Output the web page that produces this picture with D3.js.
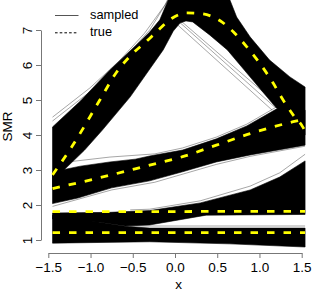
<!DOCTYPE html>
<html>
<head>
<meta charset="utf-8">
<script src="https://cdn.jsdelivr.net/npm/d3@7"></script>
<style>
  body { margin: 0; background: #fff; }
  svg { display: block; font-family: "Liberation Sans", Arial, Helvetica, sans-serif; }
</style>
</head>
<body>
<div id="chart"></div>
<script>
// ticks
const xTicks = [-1.5, -1, -0.5, 0, 0.5, 1, 1.5];
const yTicks = [1, 2, 3, 4, 5, 6, 7];
const legendLabels = ["sampled", "true"];

// true curves (yellow dashed)
const flatLowX = [-1.45, -0.3, 0.89, 1.54];
const flatLowY = [1.21, 1.21, 1.21, 1.21];
const flatHighX = [-1.45, -0.3, 0.89, 1.54];
const flatHighY = [1.81, 1.81, 1.82, 1.82];
const risingX = [-1.45, -0.89, -0.30, 0.09, 0.49, 0.89, 1.40, 1.54];
const risingY = [2.47, 2.78, 3.14, 3.38, 3.71, 4.04, 4.38, 4.46];
const peakX = [-1.45, -1.22, -0.89, -0.69, -0.50, -0.34, -0.20, -0.04, 0.14, 0.33, 0.53, 0.69, 0.85, 1.00, 1.16, 1.28, 1.40, 1.51, 1.54];
const peakY = [2.86, 3.67, 5.00, 5.80, 6.33, 6.67, 6.99, 7.33, 7.49, 7.46, 7.27, 6.95, 6.52, 6.06, 5.49, 5.00, 4.57, 4.24, 4.11];

// envelopes of the sampled curves (upper / lower edge of each black band)
const band1UpX = [-1.45, -0.89, -0.59, -0.30, 1.54];
const band1UpY = [1.71, 1.51, 1.39, 1.34, 1.34];
const band1LoX = [-1.45, -0.30, 0.65, 1.54];
const band1LoY = [0.91, 0.95, 0.89, 0.80];

const band2UpX = [-1.45, -0.77, -0.30, 0.30, 0.89, 1.24, 1.54];
const band2UpY = [1.77, 1.79, 1.84, 2.06, 2.43, 2.80, 3.26];
const band2LoX = [-1.45, -0.89, -0.59, -0.30, 0.37, 1.54];
const band2LoY = [1.60, 1.51, 1.40, 1.43, 1.71, 1.73];

const band3UpX = [-1.45, -1.34, -1.12, -0.77, -0.47, -0.30, 0.09, 0.49, 0.85, 1.20, 1.54];
const band3UpY = [2.94, 3.00, 3.11, 3.23, 3.31, 3.40, 3.57, 3.89, 4.26, 4.74, 4.71];
const band3LoX = [-1.45, -1.15, -0.75, -0.30, 0.09, 0.49, 0.89, 1.54];
const band3LoY = [2.04, 2.20, 2.49, 2.69, 2.95, 3.23, 3.43, 3.71];

const band4UpX = [-1.45, -1.12, -0.77, -0.47, -0.30, -0.18, -0.08, 0.00, 0.59, 0.65, 0.73, 0.89, 1.12, 1.36, 1.54];
const band4UpY = [4.23, 4.97, 5.86, 6.54, 6.94, 7.29, 7.86, 8.14, 8.14, 7.86, 7.37, 6.80, 6.14, 5.66, 5.37];
const band4LoX = [-1.45, -1.34, -1.07, -0.86, -0.53, -0.14, -0.02, 0.06, 0.13, 0.21, 0.41, 0.62, 0.92, 1.20, 1.54];
const band4LoY = [2.43, 2.94, 3.57, 4.14, 5.09, 6.43, 6.97, 7.20, 7.26, 7.23, 6.86, 6.43, 5.57, 4.77, 4.00];

// single sampled curves that stand apart from the bands
const strayX = [
  [-1.45, -1.01, -0.65, -0.36, -0.12, -0.06],
  [-1.45, -1.01, -0.65, -0.30, -0.08],
  [0.02, 1.15],
  [0.05, 1.18],
  [0.07, 1.10],
  [-1.42, -1.27, -0.77, -0.24, 0.09, 0.49, 0.85, 1.20],
  [-1.45, -0.75, -0.24, 0.49, 0.89, 1.54],
  [-0.53, -0.30, 0.30, 0.89, 1.24, 1.54],
  [-0.53, 0.30, 1.54]
];
const strayY = [
  [4.51, 5.34, 6.14, 6.91, 7.71, 8.00],
  [4.40, 5.23, 6.06, 7.00, 7.86],
  [7.17, 4.71],
  [7.23, 4.80],
  [7.26, 5.11],
  [2.94, 3.23, 3.37, 3.46, 3.63, 3.94, 4.31, 4.80],
  [1.96, 2.43, 2.65, 3.16, 3.39, 3.68],
  [1.86, 1.88, 2.12, 2.54, 2.92, 3.45],
  [1.40, 1.40, 1.40]
];

const pairs = (xs, ys) => xs.map((x, i) => [x, ys[i]]);

class SmrPlot {
  constructor() {
    this.config = {
      parentElement: "#chart",
      width: 312,
      height: 291,
      left: 41,
      bottom: 253
    };
    this.initVis();
  }

  initVis() {
    const vis = this;

    vis.svg = d3.select(vis.config.parentElement)
      .append("svg")
      .attr("width", vis.config.width)
      .attr("height", vis.config.height);

    vis.xScale = d3.scaleLinear().domain([-1.5, 1.5]).range([48.3, 301.7]);
    vis.yScale = d3.scaleLinear().domain([1, 7]).range([240, 30]);

    vis.svg.append("clipPath").attr("id", "plotclip")
      .append("rect")
      .attr("x", vis.config.left)
      .attr("y", 0)
      .attr("width", vis.config.width - vis.config.left)
      .attr("height", vis.config.bottom);

    vis.plot = vis.svg.append("g").attr("clip-path", "url(#plotclip)");

    vis.drawBands();
    vis.drawStray();
    vis.drawTrue();
    vis.drawAxes();
    vis.drawLegend();
  }

  drawBands() {
    const vis = this;
    const line = d3.line().x(d => vis.xScale(d[0])).y(d => vis.yScale(d[1]));
    const bands = [
      [pairs(band1UpX, band1UpY), pairs(band1LoX, band1LoY)],
      [pairs(band2UpX, band2UpY), pairs(band2LoX, band2LoY)],
      [pairs(band3UpX, band3UpY), pairs(band3LoX, band3LoY)],
      [pairs(band4UpX, band4UpY), pairs(band4LoX, band4LoY)]
    ];
    vis.plot.selectAll("path.band")
      .data(bands)
      .join("path")
      .attr("class", "band")
      .attr("d", d => line(d[0].concat(d[1].slice().reverse())) + "Z")
      .attr("fill", "#000")
      .attr("stroke", "#000")
      .attr("stroke-width", 0.6)
      .attr("stroke-linejoin", "round");
  }

  drawStray() {
    const vis = this;
    const line = d3.line().x(d => vis.xScale(d[0])).y(d => vis.yScale(d[1]));
    vis.plot.selectAll("path.stray")
      .data(strayX.map((xs, i) => pairs(xs, strayY[i])))
      .join("path")
      .attr("class", "stray")
      .attr("d", line)
      .attr("fill", "none")
      .attr("stroke", "#000")
      .attr("stroke-opacity", 0.5)
      .attr("stroke-width", 0.7);
  }

  drawTrue() {
    const vis = this;
    const line = d3.line()
      .x(d => vis.xScale(d[0]))
      .y(d => vis.yScale(d[1]))
      .curve(d3.curveMonotoneX);
    const curves = [
      pairs(flatLowX, flatLowY),
      pairs(flatHighX, flatHighY),
      pairs(risingX, risingY),
      pairs(peakX, peakY)
    ];
    vis.plot.selectAll("path.truth")
      .data(curves)
      .join("path")
      .attr("class", "truth")
      .attr("d", line)
      .attr("fill", "none")
      .attr("stroke", "#ffff00")
      .attr("stroke-width", 2.8)
      .attr("stroke-dasharray", "7.5,9");
  }

  drawAxes() {
    const vis = this;

    const xAxis = d3.axisBottom(vis.xScale)
      .tickValues(xTicks)
      .tickSize(5)
      .tickSizeOuter(0)
      .tickFormat(d => d3.format(".1f")(d).replace("-", "\u2212"));

    const xg = vis.svg.append("g")
      .attr("transform", `translate(0,${vis.config.bottom})`)
      .call(xAxis);
    xg.selectAll("text")
      .attr("y", 18.6)
      .attr("dy", 0)
      .attr("fill", "#000")
      .style("font-size", "13.5px");

    const yAxis = d3.axisLeft(vis.yScale)
      .tickValues(yTicks)
      .tickSize(5)
      .tickSizeOuter(0)
      .tickFormat(d3.format("d"));

    const yg = vis.svg.append("g")
      .attr("transform", `translate(${vis.config.left},0)`)
      .call(yAxis);
    yg.selectAll("text")
      .attr("x", 0)
      .attr("dy", 0)
      .attr("y", 0)
      .attr("text-anchor", "middle")
      .attr("transform", "translate(-9.5,0) rotate(-90)")
      .attr("fill", "#000")
      .style("font-size", "13.5px");

    [xg, yg].forEach(g => {
      g.selectAll("path, line").attr("stroke", "#777");
      g.attr("font-family", null);
    });

    vis.svg.append("text")
      .attr("x", 178.5)
      .attr("y", 289)
      .attr("text-anchor", "middle")
      .style("font-size", "13.5px")
      .text("x");

    vis.svg.append("text")
      .attr("transform", "translate(12.3,126.5) rotate(-90)")
      .attr("text-anchor", "middle")
      .style("font-size", "13.5px")
      .text("SMR");
  }

  drawLegend() {
    const vis = this;
    const rows = vis.svg.selectAll("g.legend")
      .data(legendLabels)
      .join("g")
      .attr("class", "legend")
      .attr("transform", (d, i) => `translate(0,${15 + i * 17.3})`);

    rows.append("line")
      .attr("x1", 55)
      .attr("x2", 78.5)
      .attr("y1", 0.5)
      .attr("y2", 0.5)
      .attr("stroke", (d, i) => i === 0 ? "#555" : "#000")
      .attr("stroke-width", 1)
      .attr("stroke-dasharray", (d, i) => i === 0 ? null : "2.6,2.1");

    rows.append("text")
      .attr("x", 90)
      .attr("y", 3.8)
      .style("font-size", "12.8px")
      .text(d => d);
  }
}

const smrPlot = new SmrPlot();
</script>
</body>
</html>
